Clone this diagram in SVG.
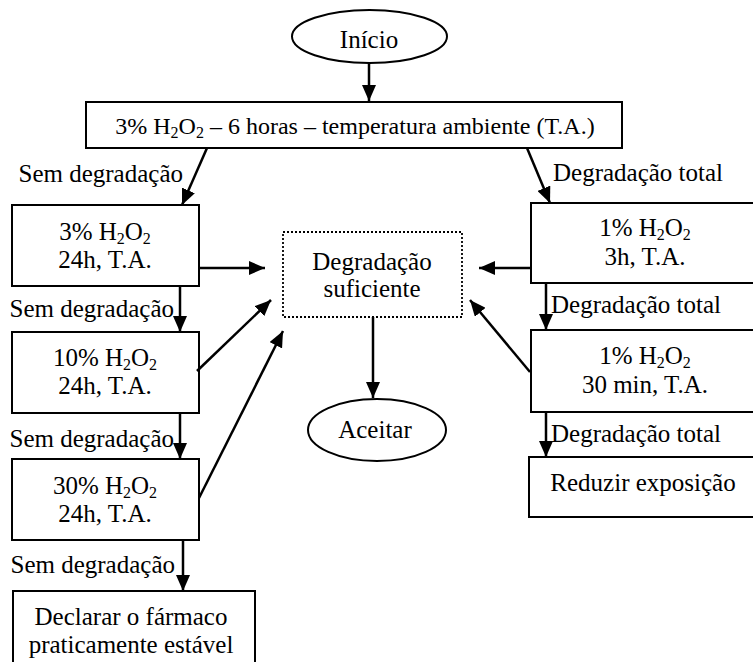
<svg xmlns="http://www.w3.org/2000/svg" width="753" height="662" viewBox="0 0 753 662">
<defs>
<marker id="ah" markerUnits="userSpaceOnUse" markerWidth="16" markerHeight="14" refX="16" refY="7" orient="auto">
<path d="M0,0 L16,7 L0,14 z" fill="#000"/>
</marker>
<style>
text{font-size:25px;fill:#000}
.c{text-anchor:middle}
.e{text-anchor:end}
.box{fill:#fff;stroke:#000;stroke-width:2}
.dot{fill:#fff;stroke:#000;stroke-width:1.8;stroke-dasharray:2 2}
.sub{font-size:16px}
#connectors line{stroke:#000;stroke-width:2.5;marker-end:url(#ah)}
</style>
</defs>
<rect width="753" height="662" fill="#fff"/>
<g font-family="Liberation Serif, DejaVu Serif, serif">

<g id="inicio">
<ellipse cx="369.5" cy="36.5" rx="77.5" ry="26.5" class="box"/>
<text x="369" y="48" class="c">Início</text>
</g>

<g id="main">
<rect x="86" y="102" width="536" height="46" class="box"/>
<text x="355" y="134" class="c" style="font-size:24px">3% H<tspan class="sub" dy="4">2</tspan><tspan dy="-4">O</tspan><tspan class="sub" dy="4">2</tspan><tspan dy="-4"> – 6 horas – temperatura ambiente (T.A.)</tspan></text>
</g>

<g id="l1">
<rect x="12" y="205" width="187" height="81" class="box"/>
<text x="105" y="240" class="c">3% H<tspan class="sub" dy="4">2</tspan><tspan dy="-4">O</tspan><tspan class="sub" dy="4">2</tspan></text>
<text x="105" y="268" class="c">24h, T.A.</text>
</g>

<g id="l2">
<rect x="12" y="332" width="187" height="81" class="box"/>
<text x="105" y="366" class="c">10% H<tspan class="sub" dy="4">2</tspan><tspan dy="-4">O</tspan><tspan class="sub" dy="4">2</tspan></text>
<text x="105" y="394" class="c">24h, T.A.</text>
</g>

<g id="l3">
<rect x="12" y="459" width="187" height="81" class="box"/>
<text x="105" y="494" class="c">30% H<tspan class="sub" dy="4">2</tspan><tspan dy="-4">O</tspan><tspan class="sub" dy="4">2</tspan></text>
<text x="105" y="522" class="c">24h, T.A.</text>
</g>

<g id="declarar">
<rect x="13" y="591" width="242" height="80" class="box"/>
<text x="131" y="625" class="c">Declarar o fármaco</text>
<text x="131" y="653" class="c">praticamente estável</text>
</g>

<g id="suficiente">
<rect x="283" y="232" width="179" height="85" class="dot"/>
<text x="372" y="270" class="c">Degradação</text>
<text x="372" y="297" class="c">suficiente</text>
</g>

<g id="aceitar">
<ellipse cx="377" cy="430" rx="69" ry="31" class="box"/>
<text x="375" y="438" class="c">Aceitar</text>
</g>

<g id="r1">
<rect x="531" y="203" width="230" height="80" class="box"/>
<text x="645" y="236" class="c">1% H<tspan class="sub" dy="4">2</tspan><tspan dy="-4">O</tspan><tspan class="sub" dy="4">2</tspan></text>
<text x="645" y="265" class="c">3h, T.A.</text>
</g>

<g id="r2">
<rect x="531" y="330" width="230" height="82" class="box"/>
<text x="645" y="364" class="c">1% H<tspan class="sub" dy="4">2</tspan><tspan dy="-4">O</tspan><tspan class="sub" dy="4">2</tspan></text>
<text x="645" y="393" class="c">30 min, T.A.</text>
</g>

<g id="r3">
<rect x="529" y="457" width="232" height="60" class="box"/>
<text x="643" y="491" class="c">Reduzir exposição</text>
</g>

<g id="connectors">
<line x1="369" y1="63" x2="369" y2="101"/>
<line x1="207" y1="148" x2="182" y2="205"/>
<line x1="527" y1="148" x2="550" y2="203"/>
<line x1="199" y1="268" x2="265" y2="268"/>
<line x1="531" y1="268" x2="479" y2="268"/>
<line x1="180" y1="286" x2="180" y2="332"/>
<line x1="546" y1="283" x2="546" y2="330"/>
<line x1="197" y1="371" x2="271" y2="300"/>
<line x1="530" y1="372" x2="470" y2="300"/>
<line x1="199" y1="498" x2="283" y2="331"/>
<line x1="373" y1="317" x2="373" y2="398"/>
<line x1="180" y1="413" x2="180" y2="459"/>
<line x1="546" y1="412" x2="546" y2="457"/>
<line x1="183" y1="540" x2="183" y2="591"/>
</g>

<g id="labels">
<text x="183" y="182" class="e">Sem degradação</text>
<text x="553" y="181">Degradação total</text>
<text x="174" y="317" class="e">Sem degradação</text>
<text x="551" y="313">Degradação total</text>
<text x="174" y="447" class="e">Sem degradação</text>
<text x="551" y="442">Degradação total</text>
<text x="175" y="573" class="e">Sem degradação</text>
</g>
</g>
</svg>
